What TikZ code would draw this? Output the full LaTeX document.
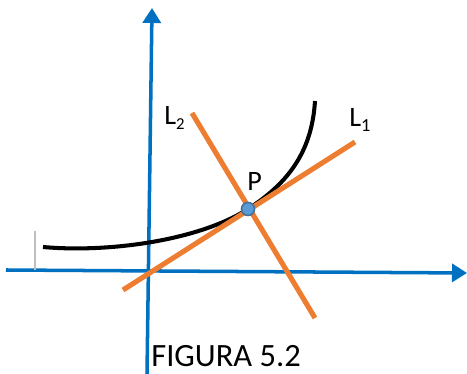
\documentclass[tikz,border=0pt]{standalone}
\usepackage{fontspec}
\setmainfont{Carlito}
\usetikzlibrary{arrows.meta}
\definecolor{axisblue}{RGB}{0,112,192}
\definecolor{lineorange}{RGB}{237,125,49}
\definecolor{dotblue}{RGB}{91,155,213}
\definecolor{dotedge}{RGB}{65,113,156}
\tikzset{
  axis/.style={-{Triangle[length=3mm,width=3.6mm]},draw=axisblue,line width=2pt},
  tline/.style={draw=lineorange,line width=2.9pt},
  curve/.style={draw=black,line width=2.3pt},
  tick/.style={draw=black!25,line width=0.8pt},
  dot/.style={circle,fill=dotblue,draw=dotedge,line width=0.9pt,minimum size=0.26cm,inner sep=0pt},
  lab/.style={anchor=base west,inner sep=0pt}
}
\newcommand{\fs}[1]{\fontsize{#1}{#1}\selectfont}
\begin{document}
\begin{tikzpicture}[x=0.02cm,y=-0.02cm]
\useasboundingbox (0,0) rectangle (467,374);
% axes
\coordinate (xs) at (6,270);
\coordinate (xe) at (467,273);
\coordinate (ys) at (147,374);
\coordinate (ye) at (152,8);
\draw[axis] (xs) -- (xe);
\draw[axis] (ys) -- (ye);
\coordinate (tb) at (35,270);
\coordinate (tt) at (35,231);
\draw[tick] (tb) -- (tt);
% curve and lines
\coordinate (P) at (248,209);
\coordinate (cs) at (43,247);
\coordinate (ce) at (315,101);
\draw[curve] (cs) .. controls (110,253) and (200,240) .. (P)
  .. controls (290,182) and (312,150) .. (ce);
\coordinate (a1) at (123,290);
\coordinate (b1) at (355,142);
\coordinate (a2) at (192,113);
\coordinate (b2) at (315,318);
\draw[tline] (a1) -- (b1);
\draw[tline] (a2) -- (b2);
\node[dot] (pdot) at (P) {};
% labels
\node[lab,font=\fs{16}] (lP) at (247,191) {P};
\node[lab,font=\fs{16}] (lL1) at (349,127) {L\raisebox{-2.3pt}{\fs{10.5}1}};
\node[lab,font=\fs{16}] (lL2) at (164,125) {L\raisebox{-2.8pt}{\fs{9.5}2}};
\node[lab,font=\fs{18.5}] (cap) at (151,367) {FIGURA 5.2};
\end{tikzpicture}
\end{document}
